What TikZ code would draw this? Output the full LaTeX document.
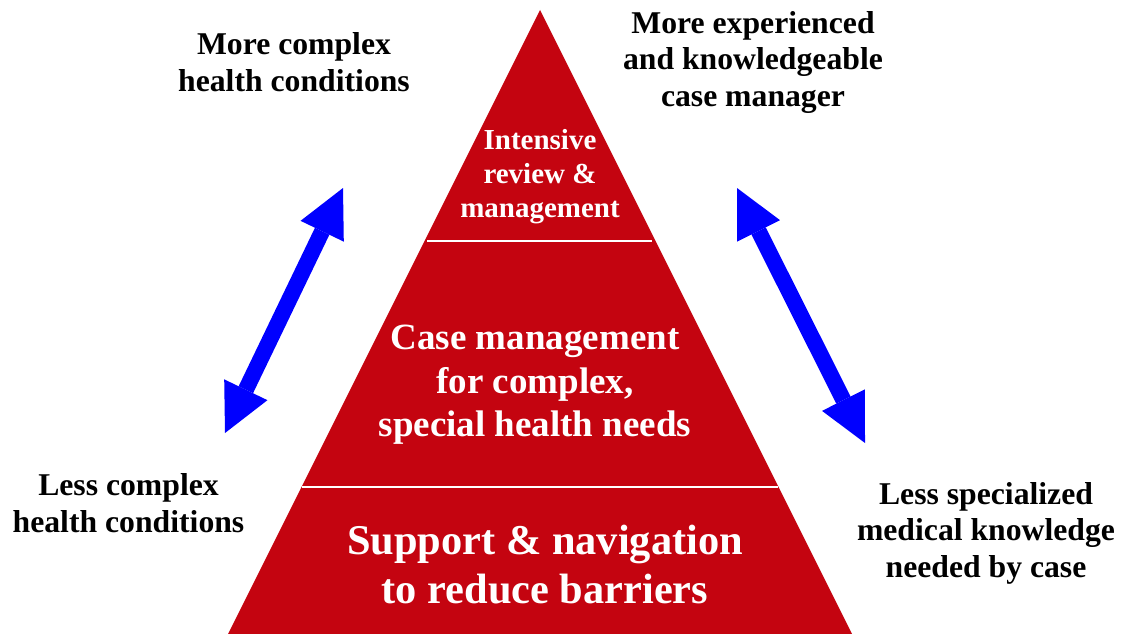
\documentclass[tikz,border=0pt]{standalone}
\usepackage{fontspec}
\setmainfont{Liberation Serif}
\usetikzlibrary{arrows.meta}
\definecolor{pyrred}{RGB}{196,4,16}
\definecolor{arrblue}{RGB}{0,0,255}
\begin{document}
\begin{tikzpicture}[x=1pt,y=-1pt,
  sidetext/.style={align=center, inner sep=0pt, text=black, font=\bfseries\fontsize{31.7}{36.5}\selectfont},
  intext/.style={align=center, inner sep=0pt, text=white},
  dblarrow/.style={draw=arrblue, line width=16pt, {Triangle[width=48pt,length=48pt,line width=0pt]}-{Triangle[width=48pt,length=48pt,line width=0pt]}},
  divider/.style={draw=white, line width=2pt}]
\useasboundingbox (0,0) rectangle (1121,634);
% pyramid
\coordinate (apex) at (540,10);
\coordinate (bl) at (228,634);
\coordinate (br) at (852,634);
\fill[pyrred] (apex) -- (bl) -- (br) -- cycle;
% dividers
\coordinate (d1l) at (427,241);
\coordinate (d1r) at (652,241);
\coordinate (d2l) at (302,486.5);
\coordinate (d2r) at (778,486.5);
\draw[divider] (d1l) -- (d1r);
\draw[divider] (d2l) -- (d2r);
% tier texts
\node[intext, font=\bfseries\fontsize{29}{34}\selectfont] (tier1) at (540,177) {Intensive\\review \&\\management};
\node[intext, font=\bfseries\fontsize{37}{43.5}\selectfont] (tier2) at (535,385) {Case management\\for complex,\\special health needs};
\node[intext, font=\bfseries\fontsize{42.4}{49}\selectfont] (tier3) at (545,565) {Support \& navigation\\to reduce barriers};
% side texts
\node[sidetext] (tl) at (294,62) {More complex\\health conditions};
\node[sidetext] (tr) at (753,62) {More experienced\\and knowledgeable\\case manager};
\node[sidetext] (bltext) at (128.5,503) {Less complex\\health conditions};
\node[sidetext] (brtext) at (986,533) {Less specialized\\medical knowledge\\needed by case};
% arrows
\coordinate (la1) at (225,433);
\coordinate (la2) at (343,188);
\coordinate (ra1) at (737,188);
\coordinate (ra2) at (865,443);
\draw[dblarrow] (la1) -- (la2);
\draw[dblarrow] (ra1) -- (ra2);
\end{tikzpicture}
\end{document}
